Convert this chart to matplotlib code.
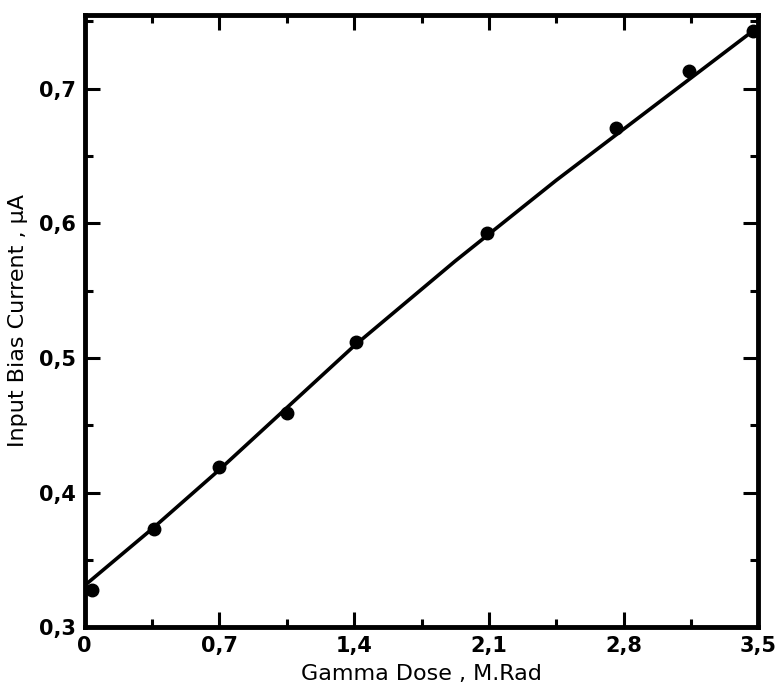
import numpy as np
import matplotlib
matplotlib.use("Agg")
import matplotlib.pyplot as plt
from matplotlib.ticker import MultipleLocator, FixedLocator, FixedFormatter

# ───────────────────────── Data ─────────────────────────
dose_points = [0.04, 0.36, 0.70, 1.05, 1.41, 2.09, 2.76, 3.14, 3.47]
bias_points = [0.328, 0.373, 0.419, 0.459, 0.512, 0.593, 0.671, 0.713, 0.743]

# hand-drawn smooth curve through the points (traced every 0.175 M.Rad)
curve_dose = [0.0, 0.175, 0.35, 0.525, 0.70, 0.875, 1.05, 1.225, 1.40, 1.575, 1.75,
              1.925, 2.10, 2.275, 2.45, 2.625, 2.80, 2.975, 3.15, 3.325, 3.50]
curve_bias = [0.331, 0.352, 0.373, 0.395, 0.417, 0.440, 0.463, 0.486, 0.509, 0.530, 0.551,
              0.572, 0.592, 0.612, 0.632, 0.651, 0.670, 0.689, 0.708, 0.727, 0.746]

x_ticks = [0, 0.7, 1.4, 2.1, 2.8, 3.5]
x_labels = ["0", "0,7", "1,4", "2,1", "2,8", "3,5"]
y_ticks = [0.3, 0.4, 0.5, 0.6, 0.7]
y_labels = ["0,3", "0,4", "0,5", "0,6", "0,7"]

# ───────────────────────── Figure ─────────────────────────
fig = plt.figure(figsize=(7.77, 7.0), dpi=100)
ax = fig.add_axes([0.109, 0.104, 0.867, 0.875])

ax.plot(curve_dose, curve_bias, color="black", linewidth=2.6,
        solid_capstyle="round", solid_joinstyle="round", zorder=2)
ax.plot(dose_points, bias_points, "o", color="black", markersize=9, zorder=3)

ax.set_xlim(0, 3.5)
ax.set_ylim(0.3, 0.755)

ax.xaxis.set_major_locator(FixedLocator(x_ticks))
ax.xaxis.set_major_formatter(FixedFormatter(x_labels))
ax.xaxis.set_minor_locator(MultipleLocator(0.35))
ax.yaxis.set_major_locator(FixedLocator(y_ticks))
ax.yaxis.set_major_formatter(FixedFormatter(y_labels))
ax.yaxis.set_minor_locator(MultipleLocator(0.05))

ax.tick_params(which="both", direction="in", top=True, right=True, width=2.2, colors="black")
ax.tick_params(which="major", length=11, labelsize=15, pad=6)
ax.tick_params(which="minor", length=6)

for lab in ax.get_xticklabels() + ax.get_yticklabels():
    lab.set_fontweight("bold")

for side in ["left", "right", "top", "bottom"]:
    ax.spines[side].set_linewidth(3.5)

ax.set_xlabel("Gamma Dose , M.Rad", fontsize=16, fontweight="medium", labelpad=6)
ax.set_ylabel("Input Bias Current , μA", fontsize=16, fontweight="medium", labelpad=8)

fig.savefig("out.png", dpi=100)
